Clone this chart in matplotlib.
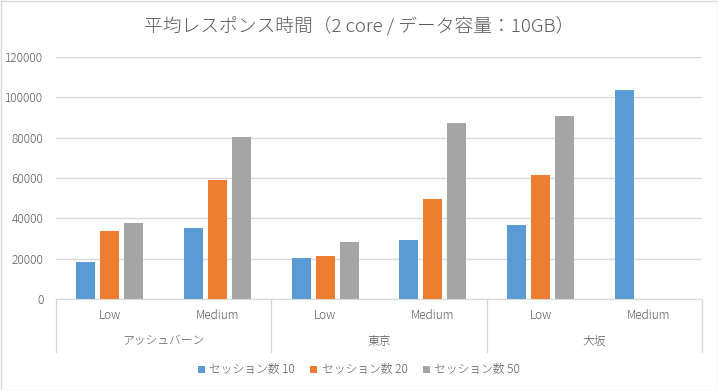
import numpy as np
import matplotlib
matplotlib.use("Agg")
import matplotlib.pyplot as plt
from matplotlib.transforms import blended_transform_factory
from matplotlib.patches import Rectangle
from matplotlib.lines import Line2D

plt.rcParams['font.family'] = ['Noto Sans CJK JP', 'DejaVu Sans']
plt.rcParams['font.weight'] = 'light'

title = "平均レスポンス時間（2 core / データ容量：10GB）"
groups = ["アッシュバーン", "東京", "大坂"]
levels = ["Low", "Medium"]
categories = [lv for g in groups for lv in levels]
series_names = ["セッション数 10", "セッション数 20", "セッション数 50"]
s10 = [18500, 35000, 20500, 29500, 36500, 103500]
s20 = [33500, 59000, 21500, 49500, 61500, np.nan]
s50 = [37500, 80300, 28500, 87300, 90500, np.nan]
yticks = [0, 20000, 40000, 60000, 80000, 100000, 120000]

colors = ["#5B9BD5", "#ED7D31", "#A5A5A5"]
text_color = "#595959"
grid_color = "#D9D9D9"

fig = plt.figure(figsize=(7.18, 3.90), dpi=100)
ax = fig.add_axes([56/718, 1-299/390, (702-56)/718, (299-57)/390])

x = np.arange(len(categories))
width = 0.177
step = 0.223
for i, (vals, c, name) in enumerate(zip([s10, s20, s50], colors, series_names)):
    ax.bar(x + (i-1)*step, vals, width=width, color=c, label=name, zorder=3)

ax.set_xlim(-0.5, len(categories)-0.5)
ax.set_ylim(0, 120000)
ax.set_yticks(yticks)
ax.set_yticklabels([str(v) for v in yticks])
ax.grid(axis='y', color=grid_color, linewidth=1, zorder=0)
for s in ['top', 'right', 'left']:
    ax.spines[s].set_visible(False)
ax.spines['bottom'].set_color(grid_color)
ax.spines['bottom'].set_zorder(4)
ax.tick_params(axis='y', length=0, pad=9, labelsize=8.5, labelcolor=text_color)
ax.set_xticks(x)
ax.set_xticklabels(categories)
ax.tick_params(axis='x', length=0, pad=7, labelsize=8.5, labelcolor=text_color)

trans = blended_transform_factory(ax.transData, fig.transFigure)
for gi, g in enumerate(groups):
    ax.text(gi*2 + 0.5, 1-341/390, g, transform=trans, ha='center', va='center',
            fontsize=8.5, color=text_color)
for b in [-0.5, 1.5, 3.5, 5.5]:
    ax.add_line(Line2D([b, b], [1-299/390, 1-352/390], transform=trans,
                       color=grid_color, linewidth=1, clip_on=False))

fig.text(0.5, 1-26/390, title, ha='center', va='center', fontsize=13.5, color=text_color)

handles, labels = ax.get_legend_handles_labels()
leg = fig.legend(handles, labels, loc='center', bbox_to_anchor=(0.5, 1-370/390),
                 ncol=3, frameon=False, fontsize=8.5, handlelength=0.6, handleheight=0.6,
                 handletextpad=0.35, columnspacing=1.3, labelcolor=text_color)

fig.patches.append(Rectangle((0.5/718, 0.5/390), 1-1/718, 1-1/390, transform=fig.transFigure,
                             fill=False, edgecolor=grid_color, linewidth=1))

fig.savefig("out.png", dpi=100, facecolor="white")
